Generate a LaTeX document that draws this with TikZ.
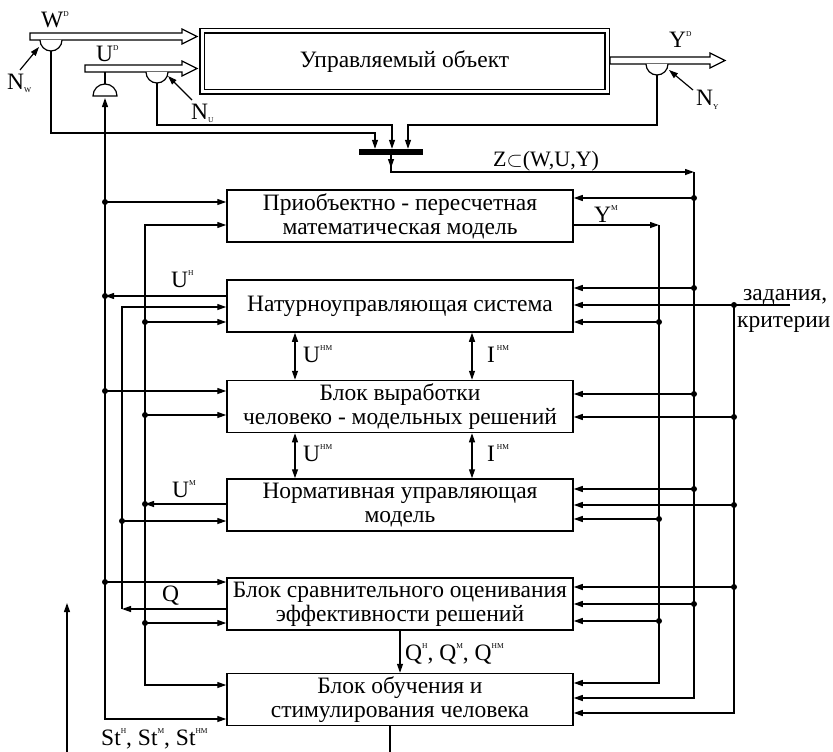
\documentclass[tikz,border=0pt]{standalone}
\usepackage{fontspec}
\setmainfont{Liberation Serif}
\usetikzlibrary{arrows.meta, positioning, calc}

\newcommand\ix[1]{\raisebox{1.05ex}{\fontsize{7.5}{7.5}\selectfont #1}}
\newcommand\dx[1]{\raisebox{-0.35ex}{\fontsize{7.5}{7.5}\selectfont #1}}
% hollow arrow: start x, tip x, centre y
\newcommand\hollowarrow[3]{%
  \draw[line width=1.2pt, fill=white] (#1,#3-3.5) -- (#2-15,#3-3.5) -- (#2-15,#3-7.5)
    -- (#2,#3) -- (#2-15,#3+7.5) -- (#2-15,#3+3.5) -- (#1,#3+3.5) -- cycle;}

\begin{document}
\begin{tikzpicture}[x=1pt, y=-1pt, >={Triangle[length=9pt,width=6pt]},
  font=\fontsize{23.5}{24}\selectfont,
  block/.style={draw, line width=1.5pt, minimum width=346pt, minimum height=52pt,
    align=center, inner sep=1pt},
  wire/.style={line width=1.2pt},
  dot/.style={circle, fill, inner sep=0pt, minimum size=6pt},
  lbl/.style={inner sep=0pt, anchor=base west}]
  \useasboundingbox (0,0) rectangle (833,752);

  % controlled object with its inputs and output
  \node[draw, line width=1.5pt, double, double distance=3pt,
    minimum width=405pt, minimum height=61pt] (obj) at (404.5,61.5) {Управляемый объект};
  \hollowarrow{30}{197}{36.5}
  \hollowarrow{85}{197}{68.5}
  \hollowarrow{610}{725}{60.5}
  \node[lbl] at (41,28) {W\ix{D}};
  \node[lbl] at (96,62) {U\ix{D}};
  \node[lbl] at (669,48) {Y\ix{D}};

  % sensors
  \draw[wire, fill=white] (40,40) arc[start angle=180, end angle=0, radius=11];
  \draw[wire, fill=white] (146,72) arc[start angle=180, end angle=0, radius=11];
  \draw[wire, fill=white] (646,64) arc[start angle=180, end angle=0, radius=11];
  \node[lbl] at (7,89) {N\dx{W}};
  \node[lbl] at (191,119) {N\dx{U}};
  \node[lbl] at (696,106) {N\dx{Y}};
  \draw[wire,->] (20,70) -- (39,47);
  \draw[wire,->] (192,100) -- (168,76);
  \draw[wire,->] (693,90) -- (669,70);

  % actuator
  \draw[wire] (105,72) -- (105,84);
  \draw[wire, fill=white] (93,96) arc[start angle=180, end angle=360, radius=12] -- cycle;

  % multiplexer
  \node[fill, minimum width=64pt, minimum height=6pt, inner sep=0pt] (mux) at (391,152) {};
  \draw[wire,->] (51,51) |- (375,133) -- (mux.north -| 375,0);
  \draw[wire,->] (157,83) |- (392,125) -- (mux.north -| 392,0);
  \draw[wire,->] (657,75) |- (408,125) -- (mux.north -| 408,0);
  \draw[wire,->] (mux.south) -- (391,168);
  \draw[wire,->] (391,166) |- (694,172);
  \node[lbl, font=\fontsize{22}{24}\selectfont] at (493,166) {Z$\subset$(W,U,Y)};

  % blocks
  \node[block] (ppm) at (400,216) {Приобъектно - пересчетная\\математическая модель};
  \node[block] (nus) at (400,306) {Натурноуправляющая система};
  \node[block] (bvr) at (400,406.5) {Блок выработки\\человеко - модельных решений};
  \node[block] (num) at (400,505) {Нормативная управляющая\\модель};
  \node[block] (bso) at (400,604) {Блок сравнительного оценивания\\эффективности решений};
  \node[block] (bos) at (400,699.5) {Блок обучения и\\стимулирования человека};

  % links between blocks
  \draw[wire,<->] (nus.south -| 295,0) -- (bvr.north -| 295,0);
  \draw[wire,<->] (nus.south -| 472,0) -- (bvr.north -| 472,0);
  \draw[wire,<->] (bvr.south -| 295,0) -- (num.north -| 295,0);
  \draw[wire,<->] (bvr.south -| 472,0) -- (num.north -| 472,0);
  \draw[wire,->] (bso.south) -- (bos.north);
  \node[lbl] at (303,362) {U\ix{НМ}};
  \node[lbl] at (487,362) {I\ix{ НМ}};
  \node[lbl] at (303,461) {U\ix{НМ}};
  \node[lbl] at (487,461) {I\ix{ НМ}};
  \node[lbl] at (405,660) {Q\ix{Н}, Q\ix{М}, Q\ix{НМ}};

  % left buses
  \draw[wire,<->] (105,98) |- (bos.west |- 0,719);
  \foreach \y in {202,391,582}
    \draw[wire,->] (105,\y) node[dot]{} -- (ppm.west |- 0,\y);
  \draw[wire,->] (nus.west |- 0,296) -- (105,296) node[dot]{};
  \node[lbl] at (171,287) {U\ix{Н}};
  \draw[wire,->] (bso.west |- 0,609) -- (122,609);
  \draw[wire,->] (122,609) |- (nus.west |- 0,307);
  \draw[wire,->] (122,521) node[dot]{} -- (num.west |- 0,521);
  \node[lbl] at (162,601) {Q};
  \draw[wire,<->] (ppm.west |- 0,225) -| (145,685) -- (bos.west |- 0,685);
  \foreach \y in {322,415,623}
    \draw[wire,->] (145,\y) node[dot]{} -- (ppm.west |- 0,\y);
  \draw[wire,->] (num.west |- 0,504) -- (145,504) node[dot]{};
  \node[lbl] at (172,497) {U\ix{М}};

  % right buses
  \draw[wire,->] (694,172) |- (bos.east |- 0,698);
  \foreach \y in {198,288,394,489,604}
    \draw[wire,->] (694,\y) node[dot]{} -- (ppm.east |- 0,\y);
  \draw[wire,->] (ppm.east |- 0,225) -- (659,225);
  \node[lbl] at (594,222) {Y\ix{М}};
  \draw[wire,->] (659,225) |- (bos.east |- 0,683);
  \foreach \y in {322,519,621}
    \draw[wire,->] (659,\y) node[dot]{} -- (ppm.east |- 0,\y);
  \draw[wire,->] (790,305) -- (nus.east |- 0,305);
  \node[dot] at (734,305) {};
  \draw[wire,->] (734,305) |- (bos.east |- 0,713);
  \foreach \y in {417,505,587}
    \draw[wire,->] (734,\y) node[dot]{} -- (ppm.east |- 0,\y);
  \node[lbl] at (743,300) {задания,};
  \node[lbl] at (737,327) {критерии};

  % training output
  \draw[wire] (bos.south -| 390,0) -- (390,752);
  \node[lbl] at (101,745) {St\ix{Н}, St\ix{М}, St\ix{НМ}};
  \draw[wire,->] (67,752) -- (67,603);
\end{tikzpicture}
\end{document}
